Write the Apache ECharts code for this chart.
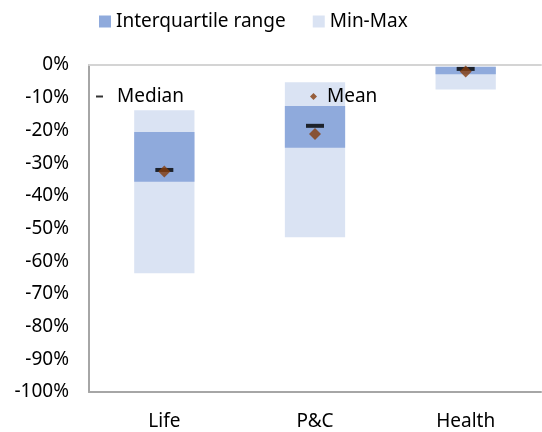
<!DOCTYPE html>
<html>
<head>
<meta charset="utf-8">
<script src="https://cdn.jsdelivr.net/npm/echarts@6/dist/echarts.min.js"></script>
<style>
  html, body { margin: 0; padding: 0; background: #fff; }
  #chart { width: 542px; height: 432px; }
</style>
</head>
<body>
<div id="chart"></div>
<script>
// Change in value by business line, in percent
const categories = ['Life', 'P&C', 'Health'];
const minVals    = [-63.7, -52.7, -7.5];
const maxVals    = [-13.8, -5.3, -0.5];
const q1Vals     = [-35.7, -25.3, -2.8];
const q3Vals     = [-20.5, -12.5, -0.5];
const medianVals = [-32.1, -18.6, -1.2];
const meanVals   = [-32.6, -21.1, -2.0];
const yTicks     = { min: -100, max: 0, step: 10 };

const FONT = 'Noto Sans';
const FS = 19;

// Vertical box drawn between two values on the category band
function rangeBox(params, api) {
  const i = api.value(0);
  const top = api.coord([i, api.value(2)]);
  const bottom = api.coord([i, api.value(1)]);
  const w = api.size([1, 0])[0] * 0.4;
  return {
    type: 'rect',
    shape: { x: top[0] - w / 2, y: top[1], width: w, height: bottom[1] - top[1] },
    style: api.style()
  };
}

const rangeData = categories.map((c, i) => [i, minVals[i], maxVals[i]]);
const iqrData = categories.map((c, i) => [i, q1Vals[i], q3Vals[i]]);

const chart = echarts.init(document.getElementById('chart'), null, { renderer: 'canvas' });
chart.setOption({
  animation: false,
  textStyle: { fontFamily: FONT },
  grid: { left: 89, right: 1, top: 65, bottom: 40, containLabel: false },
  legend: [
    {
      data: ['Interquartile range', 'Min-Max'],
      left: 99, top: 12, padding: 0,
      itemWidth: 12, itemHeight: 12, itemGap: 27,
      icon: 'rect',
      textStyle: { fontFamily: FONT, fontSize: FS, color: '#000' }
    },
    {
      data: [{ name: 'Median', icon: 'rect' }],
      left: 96, top: 87, padding: 0,
      itemWidth: 7, itemHeight: 2,
      textStyle: { fontFamily: FONT, fontSize: FS, color: '#000', padding: [0, 0, 0, 9] }
    },
    {
      data: [{ name: 'Mean', icon: 'diamond' }],
      left: 310, top: 87, padding: 0,
      itemWidth: 7, itemHeight: 7,
      textStyle: { fontFamily: FONT, fontSize: FS, color: '#000', padding: [0, 0, 0, 5] }
    }
  ],
  xAxis: [
    {
      type: 'category', data: categories, position: 'bottom',
      axisLine: { show: true, onZero: false, lineStyle: { color: '#A6A6A6', width: 2 } },
      axisTick: { show: false },
      axisLabel: { fontFamily: FONT, fontSize: FS, color: '#000', margin: 20 }
    },
    {
      type: 'category', data: categories, position: 'top',
      axisLine: { show: true, onZero: false, lineStyle: { color: '#D4D4D4', width: 2 } },
      axisTick: { show: false }, axisLabel: { show: false }
    }
  ],
  yAxis: {
    type: 'value', min: yTicks.min, max: yTicks.max, interval: yTicks.step,
    axisLine: { show: true, lineStyle: { color: '#A6A6A6', width: 2 } },
    axisTick: { show: false },
    splitLine: { show: false },
    axisLabel: { fontFamily: FONT, fontSize: FS, color: '#000', margin: 20, formatter: '{value}%' }
  },
  series: [
    {
      name: 'Min-Max', type: 'custom', renderItem: rangeBox,
      itemStyle: { color: '#DAE3F3' },
      encode: { x: 0, y: [1, 2] }, data: rangeData, z: 1
    },
    {
      name: 'Interquartile range', type: 'custom', renderItem: rangeBox,
      itemStyle: { color: '#8FAADC' },
      encode: { x: 0, y: [1, 2] }, data: iqrData, z: 2
    },
    {
      name: 'Median', type: 'scatter', symbol: 'rect', symbolSize: [18, 4],
      itemStyle: { color: '#000' }, data: medianVals, z: 3
    },
    {
      name: 'Mean', type: 'scatter', symbol: 'diamond', symbolSize: 12,
      itemStyle: { color: '#843C0C' }, data: meanVals, z: 4
    }
  ]
});
</script>
</body>
</html>
